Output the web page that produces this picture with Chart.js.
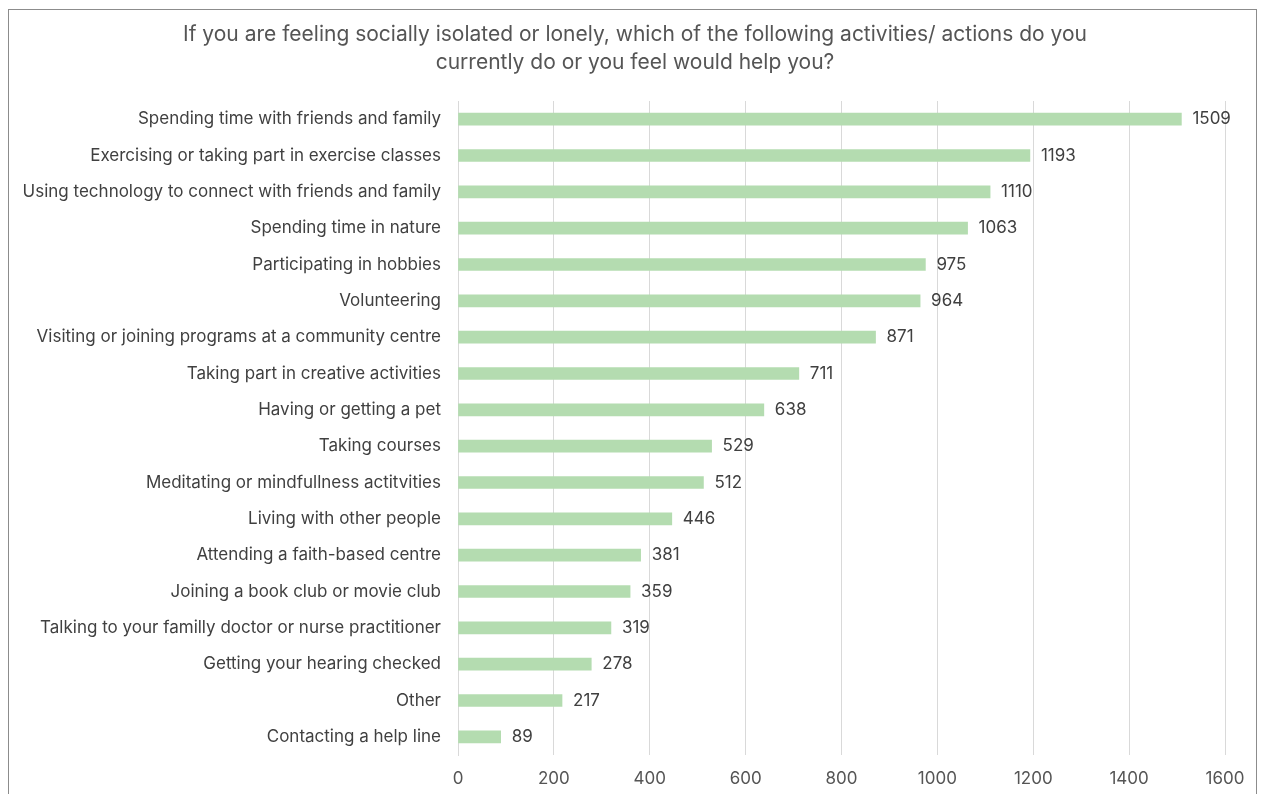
<!DOCTYPE html>
<html>
<head>
<meta charset="utf-8">
<script src="https://cdn.jsdelivr.net/npm/chart.js@4"></script>
<style>
  html, body { margin: 0; padding: 0; background: #fff; }
  #wrap { position: relative; width: 1261px; height: 794px; }
  #frame {
    position: absolute; left: 8px; top: 9px; width: 1249px; height: 800px;
    border: 1px solid #8c8c8c; box-sizing: border-box; pointer-events: none;
  }
  canvas { position: absolute; left: 0; top: 0; }
</style>
</head>
<body>
<div id="wrap">
  <canvas id="chart" width="1261" height="794"></canvas>
  <div id="frame"></div>
</div>
<script>
const activities = [
  "Spending time with friends and family",
  "Exercising or taking part in exercise classes",
  "Using technology to connect with friends and family",
  "Spending time in nature",
  "Participating in hobbies",
  "Volunteering",
  "Visiting or joining programs at a community centre",
  "Taking part in creative activities",
  "Having or getting a pet",
  "Taking courses",
  "Meditating or mindfullness actitvities",
  "Living with other people",
  "Attending a faith-based centre",
  "Joining a book club or movie club",
  "Talking to your familly doctor or nurse practitioner",
  "Getting your hearing checked",
  "Other",
  "Contacting a help line"
];
const responses = [1509, 1193, 1110, 1063, 975, 964, 871, 711, 638, 529, 512, 446, 381, 359, 319, 278, 217, 89];
const titleLines = [
  "If you are feeling socially isolated or lonely, which of the following activities/ actions do you",
  "currently do or you feel would help you?"
];

const fontFamily = "Inter, 'Noto Sans', sans-serif";
const textColor = "#555555";

// two-line heading, centred on the framed box rather than the plot
const heading = {
  id: "heading",
  afterDraw(chart) {
    const ctx = chart.ctx;
    ctx.save();
    ctx.font = "21px " + fontFamily;
    ctx.fillStyle = textColor;
    ctx.textAlign = "center";
    ctx.textBaseline = "middle";
    titleLines.forEach((line, i) => ctx.fillText(line, 635, 35 + i * 28));
    ctx.restore();
  }
};

// writes the count just past the end of each bar
const valueLabels = {
  id: "valueLabels",
  afterDatasetsDraw(chart) {
    const ctx = chart.ctx;
    const meta = chart.getDatasetMeta(0);
    ctx.save();
    ctx.font = "17px " + fontFamily;
    ctx.fillStyle = "#404040";
    ctx.textAlign = "left";
    ctx.textBaseline = "middle";
    meta.data.forEach((bar, i) => {
      ctx.fillText(String(responses[i]), bar.x + 11, bar.y);
    });
    ctx.restore();
  }
};

new Chart(document.getElementById("chart"), {
  type: "bar",
  data: {
    labels: activities,
    datasets: [{
      data: responses,
      backgroundColor: "#b4dcb0",
      barThickness: 12
    }]
  },
  options: {
    indexAxis: "y",
    responsive: false,
    animation: false,
    layout: { padding: { left: 0, right: 36, top: 101, bottom: 0 } },
    plugins: {
      legend: { display: false },
      tooltip: { enabled: false },
      title: { display: false }
    },
    scales: {
      x: {
        min: 0,
        max: 1600,
        ticks: {
          stepSize: 200,
          color: textColor,
          padding: 14,
          font: { family: fontFamily, size: 17 },
          callback: (v) => String(v)
        },
        grid: { color: "#d9d9d9", lineWidth: 1, drawTicks: false },
        border: { display: false },
        afterFit(scale) { scale.height = 39; }
      },
      y: {
        ticks: {
          color: "#404040",
          padding: 17,
          autoSkip: false,
          font: { family: fontFamily, size: 17 }
        },
        grid: { display: false, drawTicks: false },
        border: { display: true, color: "#d9d9d9" },
        afterFit(scale) { scale.width = 458; }
      }
    }
  },
  plugins: [heading, valueLabels]
});
</script>
</body>
</html>
